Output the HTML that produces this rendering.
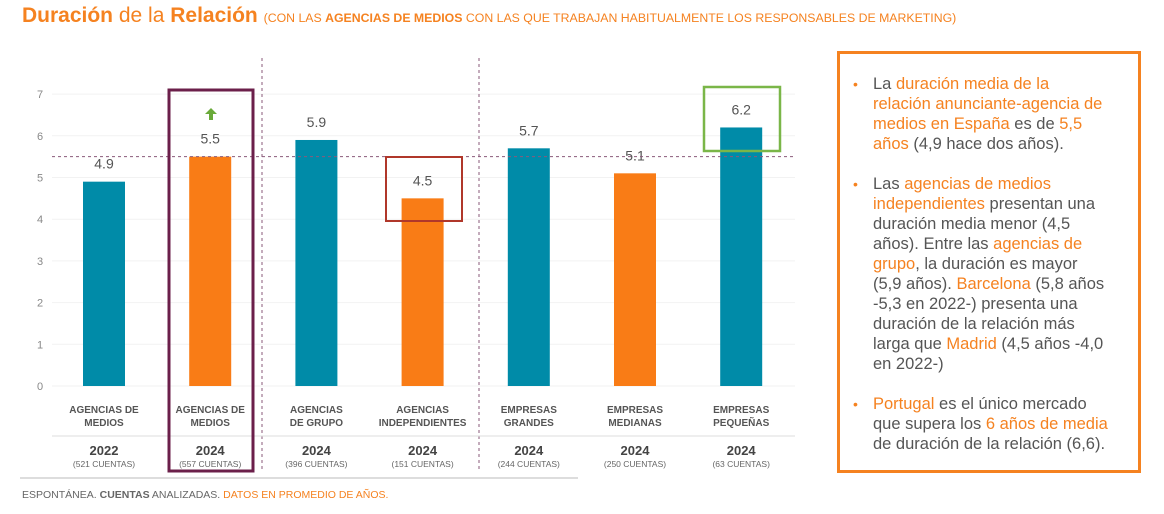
<!DOCTYPE html>
<html><head><meta charset="utf-8"><style>
body{margin:0;width:1164px;height:514px;background:#fff;font-family:"Liberation Sans",sans-serif;position:relative;overflow:hidden}
.o{color:#f58220}
#panel{position:absolute;left:837px;top:51px;width:298px;height:416px;border:3px solid #f58220}
.p{position:absolute;left:33px;font-size:16.5px;line-height:20px;color:#555;white-space:nowrap}
.b{position:absolute;left:-20px;color:#f58220;font-size:14px}
</style></head><body>
<div style="position:absolute;left:22px;top:4px;font-size:21px;color:#f58220;white-space:nowrap"><b>Duración</b> de la <b>Relación</b> <span style="font-size:12.3px">(CON LAS <b>AGENCIAS DE MEDIOS</b> CON LAS QUE TRABAJAN HABITUALMENTE LOS RESPONSABLES DE MARKETING)</span></div>
<svg id="chart" width="830" height="514" style="position:absolute;left:0;top:0"></svg>
<div style="position:absolute;left:22px;top:489px;font-size:10.5px;color:#666;white-space:nowrap">ESPONTÁNEA. <b>CUENTAS</b> ANALIZADAS. <span class="o">DATOS EN PROMEDIO DE AÑOS.</span></div>
<div id="panel">
<div class="p" style="top:20px"><span class="b">•</span>La <span class="o">duración media de la<br>relación anunciante-agencia de<br>medios en España</span> es de <span class="o">5,5<br>años</span> (4,9 hace dos años).</div>
<div class="p" style="top:120px"><span class="b">•</span>Las <span class="o">agencias de medios<br>independientes</span> presentan una<br>duración media menor (4,5<br>años). Entre las <span class="o">agencias de<br>grupo</span>, la duración es mayor<br>(5,9 años). <span class="o">Barcelona</span> (5,8 años<br>-5,3 en 2022-) presenta una<br>duración de la relación más<br>larga que <span class="o">Madrid</span> (4,5 años -4,0<br>en 2022-)</div>
<div class="p" style="top:340px"><span class="b">•</span><span class="o">Portugal</span> es el único mercado<br>que supera los <span class="o">6 años de media</span><br>de duración de la relación (6,6).</div>
</div>
<script>
const categories=[["AGENCIAS DE","MEDIOS"],["AGENCIAS DE","MEDIOS"],["AGENCIAS","DE GRUPO"],["AGENCIAS","INDEPENDIENTES"],["EMPRESAS","GRANDES"],["EMPRESAS","MEDIANAS"],["EMPRESAS","PEQUEÑAS"]];
const years=["2022","2024","2024","2024","2024","2024","2024"];
const counts=["(521 CUENTAS)","(557 CUENTAS)","(396 CUENTAS)","(151 CUENTAS)","(244 CUENTAS)","(250 CUENTAS)","(63 CUENTAS)"];
const values=[4.9,5.5,5.9,4.5,5.7,5.1,6.2];
const colorKeys=["t","o","t","o","t","o","t"];
const yTicks=[0,1,2,3,4,5,6,7];
const refValue=5.5;
const svg=document.getElementById('chart');const NS='http://www.w3.org/2000/svg';
const y=v=>386-v*41.7, x=i=>104+i*106.2;
function el(t,a,p){const e=document.createElementNS(NS,t);for(const k in a)e.setAttribute(k,a[k]);(p||svg).appendChild(e);return e;}
yTicks.forEach(t=>{
 const l=el('line',{x1:52,x2:795,y1:y(t),y2:y(t),stroke:'#f2f2f2'});
 
 
 const tx=el('text',{x:40,y:y(t)+4,'font-size':11,fill:'#888','text-anchor':'middle'});tx.textContent=t;
 
 
});
[262,479].forEach(d=>{const l=el('line',{x1:d,x2:d,y1:58,y2:470,stroke:'#8a5a7a','stroke-dasharray':'3,3'});
 
 });
values.forEach((v,i)=>{
 const r=el('rect',{x:x(i)-21,y:y(v),width:42,height:y(0)-y(v),fill:colorKeys[i]=='t'?'#008ba8':'#f97c16'});
 
 
 const t=el('text',{x:x(i),y:y(v)-13,'font-size':14,fill:'#555','text-anchor':'middle'});t.textContent=v.toFixed(1);
 
 
 categories[i].forEach((c,j)=>{const ct=el('text',{x:x(i),y:413+j*13,'font-size':10,'font-weight':'bold',fill:'#555','text-anchor':'middle'});ct.textContent=c;
  
  });
 const yr=el('text',{x:x(i),y:455,'font-size':13,'font-weight':'bold',fill:'#444','text-anchor':'middle'});yr.textContent=years[i];
 
 
 const cn=el('text',{x:x(i),y:467,'font-size':8.5,fill:'#666','text-anchor':'middle'});cn.textContent=counts[i];
 
 
});
const ref=el('line',{x1:52,x2:795,y1:y(refValue),y2:y(refValue),stroke:'#8a5a7a','stroke-dasharray':'3,3'});


const s1=el('line',{x1:52,x2:795,y1:436,y2:436,stroke:'#ddd'});


const s2=el('line',{x1:20,x2:578,y1:478,y2:478,stroke:'#ddd','stroke-width':2});


const b1=el('rect',{x:169,y:90,width:84,height:381,fill:'none',stroke:'#6b1f4a','stroke-width':3});


const b2=el('rect',{x:386,y:157,width:76,height:64,fill:'none',stroke:'#b0372a','stroke-width':2});


const b3=el('rect',{x:704,y:87,width:76,height:64,fill:'none',stroke:'#7ab648','stroke-width':2.5});


const ar=el('path',{d:'M211,108 l-6,6 h4 v6 h4 v-6 h4 z',fill:'#6aaa3a'});


</script>
</body></html>
